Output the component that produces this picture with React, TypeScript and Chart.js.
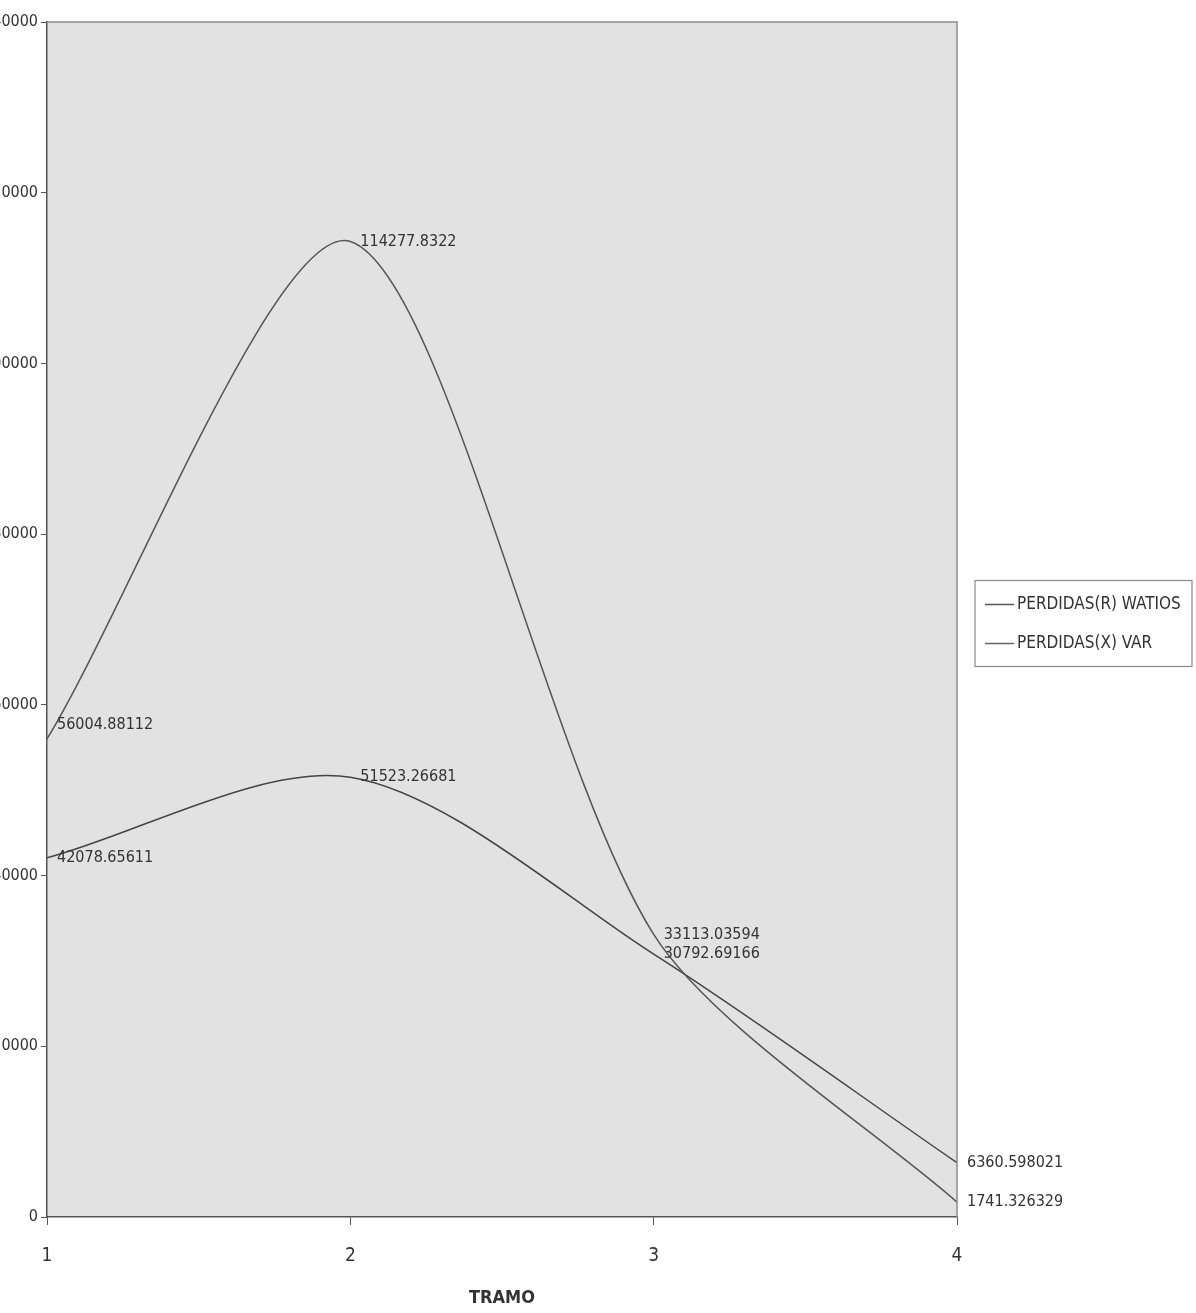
import React, { useEffect, useRef } from "react";
import { Chart, registerables } from "chart.js";

Chart.register(...registerables);

const tramos = [1, 2, 3, 4];
const perdidasR = [56004.88112, 114277.8322, 33113.03594, 1741.326329];
const perdidasX = [42078.65611, 51523.26681, 30792.69166, 6360.598021];
const labelsR = ["56004.88112", "114277.8322", "33113.03594", "1741.326329"];
const labelsX = ["42078.65611", "51523.26681", "30792.69166", "6360.598021"];
const seriesNames = ["PERDIDAS(R) WATIOS", "PERDIDAS(X) VAR"];
const xTitle = "TRAMO";
const yMin = 0;
const yMax = 140000;
const yStep = 20000;

const FONT = '"Liberation Sans Narrow", "Arial Narrow", "DejaVu Sans Condensed", sans-serif';

export default function App() {
  const ref = useRef<HTMLCanvasElement | null>(null);

  useEffect(() => {
    document.body.style.margin = "0";
    const canvas = ref.current;
    if (!canvas) return;

    const bgPlugin = {
      id: "plotBg",
      beforeDraw(chart: any) {
        const { ctx, chartArea: a } = chart;
        ctx.save();
        ctx.fillStyle = "#e2e2e2";
        ctx.fillRect(a.left, a.top, a.right - a.left, a.bottom - a.top);
        ctx.restore();
      },
      afterDraw(chart: any) {
        const { ctx, chartArea: a } = chart;
        ctx.save();
        ctx.strokeStyle = "#8a8a8a";
        ctx.lineWidth = 1.5;
        ctx.beginPath();
        ctx.moveTo(a.left, a.top);
        ctx.lineTo(a.right, a.top);
        ctx.lineTo(a.right, a.bottom);
        ctx.stroke();

        // legend
        const lx = a.right + 18;
        const cy = (a.top + a.bottom) / 2;
        const w = 217;
        const h = 86;
        const ly = cy - h / 2 + 4;
        ctx.fillStyle = "#ffffff";
        ctx.fillRect(lx, ly, w, h);
        ctx.strokeStyle = "#8a8a8a";
        ctx.lineWidth = 1.2;
        ctx.strokeRect(lx, ly, w, h);
        const colors = ["#555555", "#666666"];
        ctx.font = "17px " + FONT;
        ctx.textBaseline = "middle";
        ctx.textAlign = "left";
        seriesNames.forEach((name, i) => {
          const yy = ly + 24 + i * 39;
          ctx.strokeStyle = colors[i];
          ctx.lineWidth = 1.5;
          ctx.beginPath();
          ctx.moveTo(lx + 10, yy);
          ctx.lineTo(lx + 39, yy);
          ctx.stroke();
          ctx.fillStyle = "#333333";
          ctx.fillText(name, lx + 42, yy);
        });
        ctx.restore();
      },
    };

    const labelPlugin = {
      id: "pointLabels",
      afterDatasetsDraw(chart: any) {
        const { ctx } = chart;
        const sets = [labelsR, labelsX];
        ctx.save();
        ctx.font = "16px " + FONT;
        ctx.fillStyle = "#333333";
        ctx.textBaseline = "middle";
        ctx.textAlign = "left";
        sets.forEach((labs, di) => {
          const meta = chart.getDatasetMeta(di);
          meta.data.forEach((pt: any, i: number) => {
            ctx.fillText(labs[i], pt.x + 10, pt.y + (i === 0 && di === 0 ? -14 : 0));
          });
        });
        ctx.restore();
      },
    };

    const chart = new Chart(canvas, {
      type: "line",
      data: {
        datasets: [
          {
            label: seriesNames[0],
            data: tramos.map((t, i) => ({ x: t, y: perdidasR[i] })),
            borderColor: "#555555",
            borderWidth: 1.5,
            pointRadius: 0,
            tension: 0.27,
            fill: false,
          },
          {
            label: seriesNames[1],
            data: tramos.map((t, i) => ({ x: t, y: perdidasX[i] })),
            borderColor: "#444444",
            borderWidth: 1.5,
            pointRadius: 0,
            tension: 0.3,
            fill: false,
          },
        ],
      },
      options: {
        animation: false,
        responsive: false,
        layout: { padding: { top: 22, right: 239, left: 0, bottom: 0 } },
        plugins: {
          legend: { display: false },
          tooltip: { enabled: false },
        },
        scales: {
          x: {
            type: "linear",
            min: tramos[0],
            max: tramos[tramos.length - 1],
            afterFit(scale: any) {
              scale.height = 96;
            },
            ticks: {
              stepSize: 1,
              padding: 20,
              color: "#333333",
              font: { family: FONT, size: 19 },
            },
            grid: {
              drawOnChartArea: false,
              drawTicks: true,
              tickLength: 8,
              color: "#555555",
            },
            border: { color: "#555555", width: 1.5 },
            title: {
              display: true,
              text: xTitle,
              color: "#333333",
              font: { family: FONT, size: 18, weight: "bold" },
              padding: { top: 0, bottom: 4 },
            },
          },
          y: {
            min: yMin,
            max: yMax,
            afterFit(scale: any) {
              scale.width = 47;
            },
            ticks: {
              stepSize: yStep,
              padding: 3,
              color: "#333333",
              font: { family: FONT, size: 16 },
              callback: (v: any) => String(v),
            },
            grid: {
              drawOnChartArea: false,
              drawTicks: true,
              tickLength: 6,
              color: "#555555",
            },
            border: { color: "#555555", width: 1.5 },
          },
        },
      },
      plugins: [bgPlugin, labelPlugin],
    });

    return () => chart.destroy();
  }, []);

  return (
    <div style={{ width: 1196, height: 1313, background: "#ffffff" }}>
      <canvas ref={ref} width={1196} height={1313} style={{ display: "block" }} />
    </div>
  );
}
